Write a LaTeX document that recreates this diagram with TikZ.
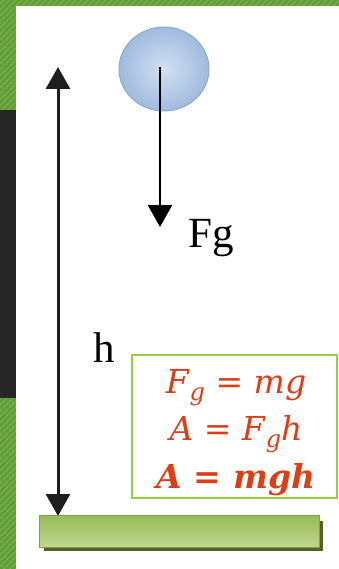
\documentclass[tikz,border=0pt]{standalone}
\usepackage{fontspec}
\newfontfamily\tms{Liberation Serif}
\newfontfamily\eqf{DejaVu Serif}
\usetikzlibrary{arrows.meta,patterns.meta,shapes.geometric}
\definecolor{stripegreen}{RGB}{96,156,56}
\definecolor{stripelight}{RGB}{124,182,74}
\definecolor{darkpanel}{RGB}{38,38,38}
\definecolor{ballin}{RGB}{210,224,241}
\definecolor{ballout}{RGB}{160,187,222}
\definecolor{ballrim}{RGB}{140,170,208}
\definecolor{boxgreen}{RGB}{150,208,72}
\definecolor{eqred}{RGB}{222,62,22}
\definecolor{bartop}{RGB}{152,188,88}
\definecolor{barbot}{RGB}{192,214,142}
\definecolor{barshadow}{RGB}{79,98,40}
\definecolor{hgray}{RGB}{30,30,30}
\newcommand{\subg}{\raisebox{-0.22em}{\fontsize{24}{24}\selectfont\itshape g}}
\begin{document}
\begin{tikzpicture}[x=1pt,y=-1pt,
  forcearrow/.style={line width=2.3pt, black, -{Triangle[width=24pt,length=22pt]}},
  harrow/.style={line width=3pt, hgray, {Triangle[width=24pt,length=22pt]}-{Triangle[width=24pt,length=22pt]}},
  lbl/.style={font=\tms\fontsize{43}{50}\selectfont, inner sep=0pt},
  eq/.style={text=eqred, font=\eqf\fontsize{33}{40}\selectfont, inner sep=0pt, anchor=base}]
\useasboundingbox (0,0) rectangle (339,569);
% background
\fill[stripegreen] (0,0) rectangle (339,569);
\fill[pattern={Lines[angle=45,distance=4pt,line width=1.5pt]}, pattern color=stripelight] (0,0) rectangle (339,569);
\fill[darkpanel] (0,110) rectangle (16,398);
\fill[white] (16,6) rectangle (339,569);
% ball
\node[ellipse, minimum width=90pt, minimum height=84pt, inner sep=0pt,
      shading=radial, inner color=ballin, outer color=ballout,
      draw=ballrim, line width=1pt] (ball) at (164,69) {};
% force arrow
\coordinate (fgstart) at (160,67);
\coordinate (fgend) at (160,227);
\draw[forcearrow] (fgstart) -- (fgend);
\node[lbl, anchor=base west] (fg) at (188,247) {Fg};
% height arrow
\coordinate (htop) at (58,67);
\coordinate (hbot) at (58,516);
\draw[harrow] (htop) -- (hbot);
\node[lbl, anchor=base] (h) at (104,362) {h};
% formula box
\node[draw=boxgreen, line width=2pt, fill=white, minimum width=205pt, minimum height=143pt, inner sep=0pt] (box) at (234.5,426.5) {};
\node[eq] (eq1) at (236,393) {\textit{F}\subg{} = \textit{mg}};
\node[eq] (eq2) at (236,440) {\textit{A} = \textit{F}\subg\textit{h}};
\node[eq] (eq3) at (236,488) {\bfseries\itshape A = mgh};
% ground bar
\fill[barshadow] (44,521) rectangle (323,551);
\node[anchor=north west, minimum width=280pt, minimum height=32pt, inner sep=0pt,
      top color=bartop, bottom color=barbot, draw=bartop!85!black, line width=0.6pt] (bar) at (39,515) {};
\end{tikzpicture}
\end{document}
